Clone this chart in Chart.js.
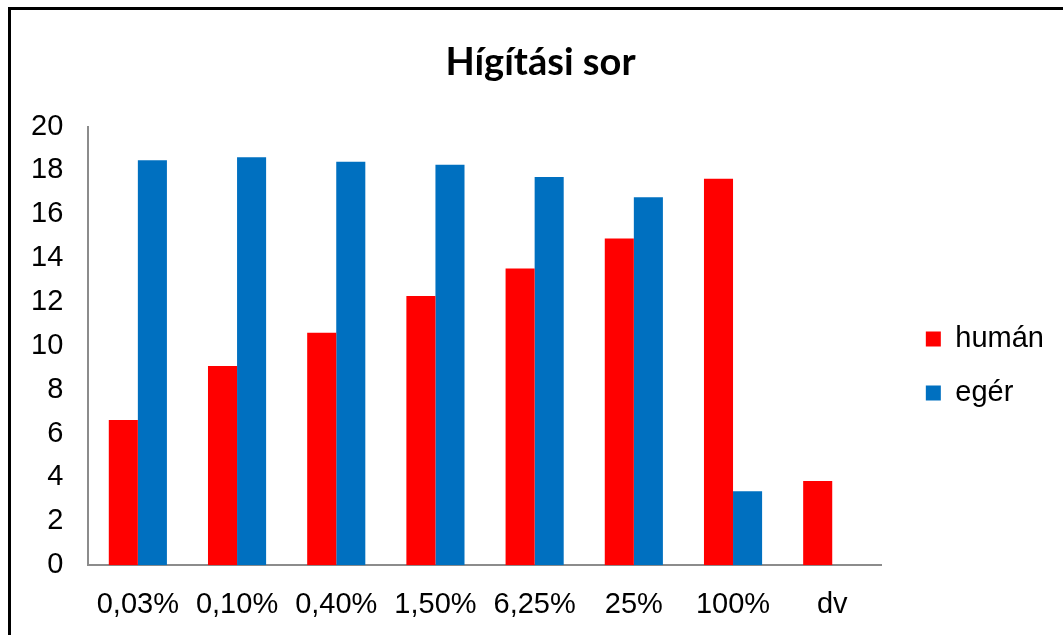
<!DOCTYPE html>
<html>
<head>
<meta charset="utf-8">
<script src="https://cdn.jsdelivr.net/npm/chart.js@4"></script>
<style>
  html, body { margin: 0; padding: 0; background: #fff; overflow: hidden; }
  #wrap { position: relative; width: 1063px; height: 635px; }
  #frame {
    position: absolute; left: 8px; top: 7px; width: 1100px; height: 700px;
    border: 3px solid #000; box-sizing: border-box; pointer-events: none;
  }
  canvas { position: absolute; left: 0; top: 0; }
</style>
</head>
<body>
<div id="wrap">
  <canvas id="chart" width="1063" height="635"></canvas>
  <div id="frame"></div>
</div>
<script>
const categories = ['0,03%', '0,10%', '0,40%', '1,50%', '6,25%', '25%', '100%', 'dv'];
const humanValues = [6.62, 9.08, 10.6, 12.28, 13.53, 14.9, 17.62, 3.84];
const egerValues = [18.46, 18.6, 18.4, 18.26, 17.7, 16.78, 3.37, null];
const yTicks = [0, 2, 4, 6, 8, 10, 12, 14, 16, 18, 20];

const axisFont = { family: '"Liberation Sans", Arial, sans-serif', size: 29 };

// nudge legend and title to where Excel put them
const boxShift = {
  id: 'boxShift',
  afterLayout(chart) {
    const lg = chart.legend;
    if (lg) {
      lg.left += 19; lg.right += 19;
      lg.top += 44; lg.bottom += 44;
    }
    const t = chart.titleBlock;
    if (t) {
      t.left += 20; t.right += 20;
    }
  }
};

const ctx = document.getElementById('chart').getContext('2d');
new Chart(ctx, {
  type: 'bar',
  data: {
    labels: categories,
    datasets: [
      { label: 'humán', data: humanValues, backgroundColor: '#FF0000', borderWidth: 0 },
      { label: 'egér', data: egerValues, backgroundColor: '#0070C0', borderWidth: 0 }
    ]
  },
  options: {
    responsive: false,
    animation: false,
    devicePixelRatio: 1,
    categoryPercentage: 0.586,
    barPercentage: 1,
    layout: { padding: { left: 6, right: 28, top: 0, bottom: -9 } },
    scales: {
      x: {
        grid: { display: false, drawTicks: false },
        border: { color: '#8c8c8c', width: 2 },
        ticks: { color: '#000', font: axisFont, padding: 22, maxRotation: 0 }
      },
      y: {
        min: 0,
        max: 20,
        afterBuildTicks: (axis) => { axis.ticks = yTicks.map(v => ({ value: v })); },
        grid: { display: false, drawTicks: false },
        border: { color: '#8c8c8c', width: 2 },
        ticks: { color: '#000', font: axisFont, padding: 25 }
      }
    },
    plugins: {
      title: {
        display: true,
        text: 'Hígítási sor',
        color: '#000',
        font: { family: 'Lato, "Open Sans", sans-serif', size: 38, weight: 'bold' },
        padding: { top: 40, bottom: 41 }
      },
      legend: {
        position: 'right',
        labels: {
          color: '#000',
          font: { family: '"Liberation Sans", Arial, sans-serif', size: 29 },
          boxWidth: 15,
          boxHeight: 15,
          padding: 25
        }
      },
      tooltip: { enabled: false }
    }
  },
  plugins: [boxShift]
});
</script>
</body>
</html>
